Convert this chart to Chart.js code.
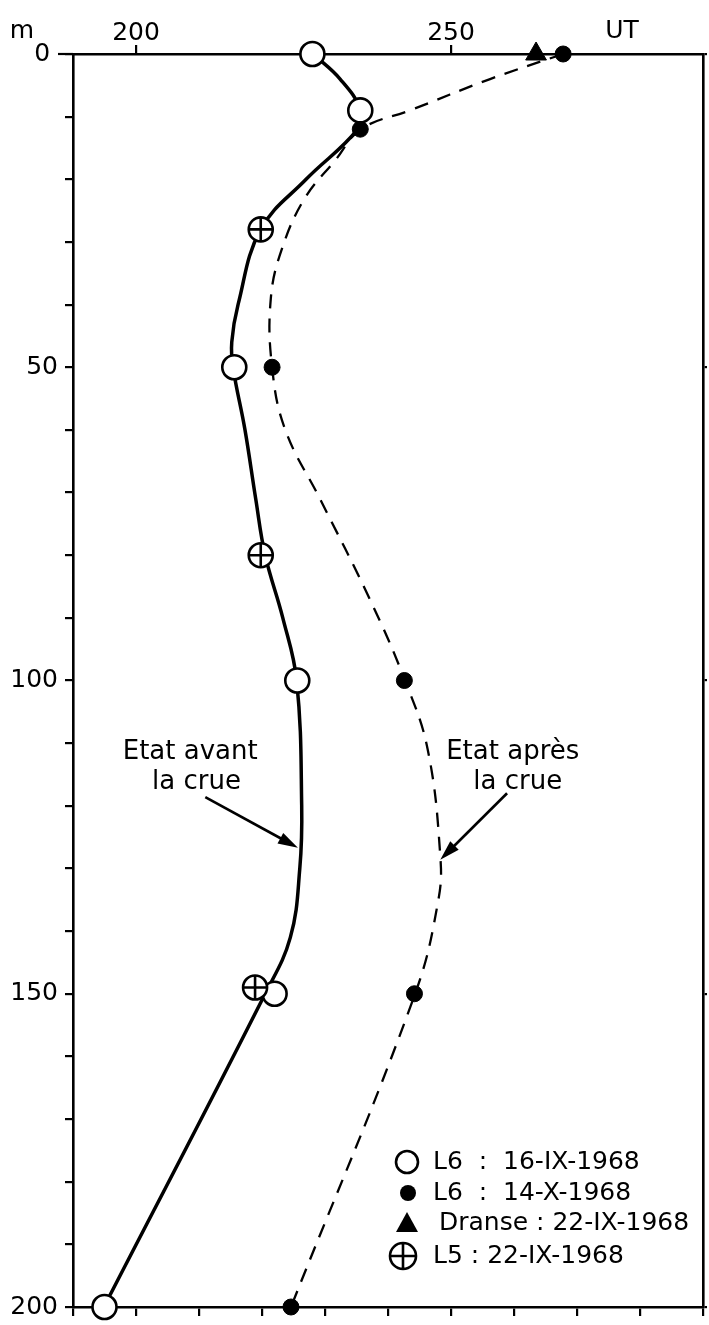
<!DOCTYPE html>
<html>
<head>
<meta charset="utf-8">
<script src="https://cdn.jsdelivr.net/npm/chart.js@4.4.0/dist/chart.umd.min.js"></script>
<style>
  html, body { margin: 0; padding: 0; background: #fff; }
  #wrap { width: 709px; height: 1325px; }
</style>
</head>
<body>
<div id="wrap"><canvas id="chart" width="709" height="1325"></canvas></div>
<script>
// measured points (depth in m, value in UT)
const openDepth = [0, 9, 50, 100, 150, 200];
const openUT = [228, 235.6, 215.6, 225.6, 222, 195];

const filledDepth = [0, 12, 50, 100, 150, 200];
const filledUT = [267.8, 235.6, 221.6, 242.6, 244.2, 224.6];

const dranseDepth = [0];
const dranseUT = [263.5];

const l5Depth = [28, 80, 149];
const l5UT = [219.8, 219.8, 218.9];

// hand-drawn curves
const avantDepth = [0, 4, 9, 12, 20, 28, 40, 46, 50, 60, 71, 80, 90, 100, 120, 130, 141, 150, 200];
const avantUT = [228.1, 232.4, 235.7, 235.2, 227, 219.8, 216.2, 215.2, 215.4, 217.3, 219, 220.5, 223.3, 225.5, 226.3, 226, 224.5, 220.5, 194.9];

const apresDepth = [0, 4, 9, 12, 17, 23, 31, 39, 50, 60, 71, 87, 100, 111, 128, 135, 150, 200];
const apresUT = [267.8, 256.2, 243.5, 235.7, 231.6, 226.8, 223.2, 221.4, 221.6, 223.7, 229.2, 237.1, 242.7, 246.3, 248.3, 248, 244.3, 224.6];

const xTickLabels = [200, 250];
const yTickLabels = [0, 50, 100, 150, 200];

const legendLabels = [
  "L6  :  16-IX-1968",
  "L6  :  14-X-1968",
  "Dranse : 22-IX-1968",
  "L5 : 22-IX-1968"
];

const FONT = "'DejaVu Sans', sans-serif";
const toPts = (d, v) => d.map((dep, i) => ({ x: v[i], y: dep }));

const annotations = {
  id: "annotations",
  afterDatasetsDraw(chart) {
    const ctx = chart.ctx;
    const xs = chart.scales.x;
    const ys = chart.scales.y;
    const area = chart.chartArea;
    const px = v => xs.getPixelForValue(v);
    const py = v => ys.getPixelForValue(v);

    ctx.save();
    ctx.fillStyle = "#000";
    ctx.strokeStyle = "#000";
    ctx.textAlign = "center";
    ctx.textBaseline = "middle";
    ctx.font = "25px " + FONT;

    ctx.fillText("m", 22, 31);
    ctx.fillText("UT", 622, 31);

    // longer tick at depth 0
    ctx.lineWidth = 2.2;
    ctx.beginPath();
    ctx.moveTo(area.left - 15, area.top);
    ctx.lineTo(area.left, area.top);
    ctx.stroke();

    ctx.font = "26px " + FONT;
    ctx.fillText("Etat avant", px(208.6), py(111.4));
    ctx.fillText("la crue", px(209.6), py(116.2));
    ctx.fillText("Etat après", px(259.8), py(111.4));
    ctx.fillText("la crue", px(260.6), py(116.2));

    const arrow = (x1, y1, x2, y2) => {
      const a = Math.atan2(y2 - y1, x2 - x1);
      const c = Math.cos(a), s = Math.sin(a);
      ctx.lineWidth = 2.6;
      ctx.beginPath();
      ctx.moveTo(x1, y1);
      ctx.lineTo(x2 - 12 * c, y2 - 12 * s);
      ctx.stroke();
      ctx.beginPath();
      ctx.moveTo(x2, y2);
      ctx.lineTo(x2 - 20 * c + 6 * s, y2 - 20 * s - 6 * c);
      ctx.lineTo(x2 - 20 * c - 6 * s, y2 - 20 * s + 6 * c);
      ctx.closePath();
      ctx.fill();
    };
    arrow(px(211), py(118.6), px(225.7), py(126.7));
    arrow(px(258.9), py(118), px(248.3), py(128.6));

    // legend
    const lx = area.left + 334;
    const tx = area.left + 360;
    const rows = [1162, 1193, 1223, 1256];
    ctx.textAlign = "left";
    ctx.font = "25px " + FONT;
    legendLabels.forEach((t, i) => {
      ctx.fillText(t, i === 2 ? tx + 6 : tx, rows[i]);
    });
    ctx.lineWidth = 2.6;
    ctx.beginPath();
    ctx.arc(lx, rows[0], 11, 0, Math.PI * 2);
    ctx.stroke();
    ctx.beginPath();
    ctx.arc(lx + 1, rows[1], 8, 0, Math.PI * 2);
    ctx.fill();
    ctx.beginPath();
    ctx.moveTo(lx, rows[2] - 11);
    ctx.lineTo(lx + 11, rows[2] + 9);
    ctx.lineTo(lx - 11, rows[2] + 9);
    ctx.closePath();
    ctx.fill();
    ctx.beginPath();
    ctx.arc(lx - 4, rows[3], 13, 0, Math.PI * 2);
    ctx.moveTo(lx - 17, rows[3]);
    ctx.lineTo(lx + 9, rows[3]);
    ctx.moveTo(lx - 4, rows[3] - 13);
    ctx.lineTo(lx - 4, rows[3] + 13);
    ctx.stroke();
    ctx.restore();
  }
};

new Chart(document.getElementById("chart"), {
  type: "scatter",
  data: {
    datasets: [
      {
        label: "L5 cross",
        data: toPts(l5Depth, l5UT),
        pointStyle: "cross",
        pointRadius: 12,
        borderColor: "#000",
        borderWidth: 2.6,
        order: 0,
        clip: false
      },
      {
        label: "L5 : 22-IX-1968",
        data: toPts(l5Depth, l5UT),
        pointStyle: "circle",
        pointRadius: 12,
        backgroundColor: "#fff",
        borderColor: "#000",
        borderWidth: 2.6,
        order: 1,
        clip: false
      },
      {
        label: "L6 : 16-IX-1968",
        data: toPts(openDepth, openUT),
        pointStyle: "circle",
        pointRadius: 12,
        backgroundColor: "#fff",
        borderColor: "#000",
        borderWidth: 2.6,
        order: 1,
        clip: false
      },
      {
        label: "L6 : 14-X-1968",
        data: toPts(filledDepth, filledUT),
        pointStyle: "circle",
        pointRadius: 8,
        backgroundColor: "#000",
        borderColor: "#000",
        borderWidth: 1,
        order: 1,
        clip: false
      },
      {
        label: "Dranse : 22-IX-1968",
        data: toPts(dranseDepth, dranseUT),
        pointStyle: "triangle",
        pointRadius: 12,
        backgroundColor: "#000",
        borderColor: "#000",
        borderWidth: 1,
        order: 1,
        clip: false
      },
      {
        label: "Etat avant la crue",
        data: toPts(avantDepth, avantUT),
        showLine: true,
        tension: 0.4,
        pointRadius: 0,
        borderColor: "#000",
        borderWidth: 3.5,
        order: 5,
        clip: false
      },
      {
        label: "Etat après la crue",
        data: toPts(apresDepth, apresUT),
        showLine: true,
        tension: 0.4,
        pointRadius: 0,
        borderColor: "#000",
        borderWidth: 2.3,
        borderDash: [14, 10],
        order: 5,
        clip: false
      }
    ]
  },
  options: {
    responsive: false,
    animation: false,
    devicePixelRatio: 1,
    layout: { padding: 0, autoPadding: false },
    plugins: {
      legend: { display: false },
      tooltip: { enabled: false }
    },
    scales: {
      x: {
        type: "linear",
        position: "top",
        min: 190,
        max: 290,
        afterFit: s => { s.height = 54; },
        ticks: {
          stepSize: 10,
          autoSkip: false,
          maxRotation: 0,
          padding: -3,
          color: "#000",
          font: { family: FONT, size: 25 },
          callback: v => xTickLabels.includes(v) ? String(v) : ""
        },
        grid: {
          drawOnChartArea: false,
          tickLength: 9,
          lineWidth: 2.2,
          color: c => (c.tick && xTickLabels.includes(c.tick.value)) ? "#000" : "rgba(0,0,0,0)"
        },
        border: { color: "#000", width: 2.6 }
      },
      x2: {
        type: "linear",
        position: "bottom",
        min: 190,
        max: 290,
        afterFit: s => { s.height = 18; },
        ticks: { stepSize: 10, autoSkip: false, callback: () => "" },
        grid: { drawOnChartArea: false, tickLength: 9, lineWidth: 2.2, color: "#000" },
        border: { color: "#000", width: 2.6 }
      },
      y: {
        type: "linear",
        position: "left",
        reverse: true,
        min: 0,
        max: 200,
        afterFit: s => { s.width = 73; },
        ticks: {
          stepSize: 10,
          autoSkip: false,
          padding: 7,
          color: "#000",
          font: { family: FONT, size: 25, lineHeight: 0.5 },
          callback: v => v === 0 ? "0 " : (yTickLabels.includes(v) ? String(v) : "")
        },
        grid: { drawOnChartArea: false, tickLength: 8, lineWidth: 2.2, color: "#000" },
        border: { color: "#000", width: 2.6 }
      },
      y2: {
        type: "linear",
        position: "right",
        reverse: true,
        min: 0,
        max: 200,
        afterFit: s => { s.width = 6; },
        ticks: { stepSize: 50, callback: () => "" },
        grid: { drawOnChartArea: false, tickLength: 4, lineWidth: 2.2, color: "#000" },
        border: { color: "#000", width: 2.6 }
      }
    }
  },
  plugins: [annotations]
});
</script>
</body>
</html>
